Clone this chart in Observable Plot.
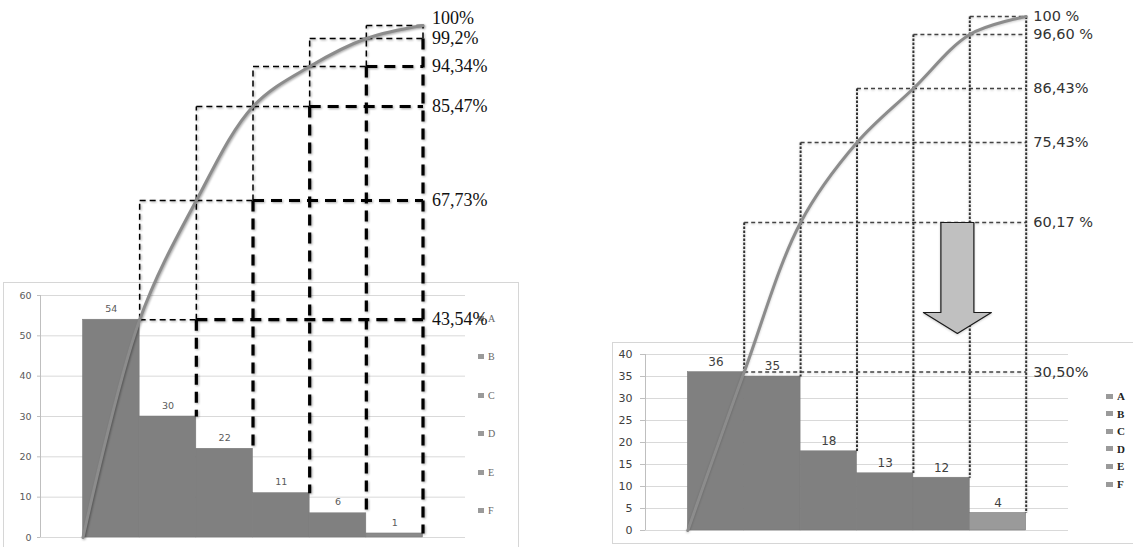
<!DOCTYPE html>
<html><head><meta charset="utf-8">
<script src="https://cdn.jsdelivr.net/npm/d3@7"></script>
<script src="https://cdn.jsdelivr.net/npm/@observablehq/plot@0.6"></script>
<style>
html,body{margin:0;padding:0;background:#fff;}
#root{position:relative;width:1133px;height:547px;overflow:hidden;background:#fff;}
#root svg{position:absolute;left:0;top:0;}
.box{position:absolute;border:1px solid #d6d6d6;box-sizing:border-box;}
.lg{position:absolute;display:flex;align-items:center;white-space:nowrap;}
.lg i{display:inline-block;}
</style></head><body><div id="root"></div><script>
// ---------- data ----------
const categories = ["A", "B", "C", "D", "E", "F"];
const leftValues = [54, 30, 22, 11, 6, 1];
const leftCumulative = [43.54, 67.73, 85.47, 94.34, 99.2, 100];
const leftCumLabels = ["43,54%", "67,73%", "85,47%", "94,34%", "99,2%", "100%"];
const leftTicks = [0, 10, 20, 30, 40, 50, 60];
const rightValues = [36, 35, 18, 13, 12, 4];
const rightCumulative = [30.50, 60.17, 75.43, 86.43, 96.60, 100];
const rightCumLabels = ["30,50%", "60,17 %", "75,43%", "86,43%", "96,60 %", "100 %"];
const rightTicks = [0, 5, 10, 15, 20, 25, 30, 35, 40];
const rightArrow = {x: 4.78, from: 60.17};

// ---------- layout ----------
const W = 1133, H = 547;
const xDomain = [-0.75, 6.75];
const panels = [
  {values: leftValues, cum: leftCumulative, labels: leftCumLabels, ticks: leftTicks, yMax: 60,
   left: 40, right: 465, top: 295, bottom: 537, upperPx: [200, 106, 66, 38, 25],
   style: "bold", tickFont: 9.5, tickColor: "#595959", tickGap: 9, tickLen: 3,
   valFont: 9.5, valColor: "#5a5a5a", valDy: 11, barColors: ["#808080","#808080","#808080","#808080","#808080","#8a8a8a"],
   labFont: "Liberation Serif", labSize: 18, labColor: "#111", labDx: 9, lastDy: -7,
   box: {left: 3, top: 282, width: 516, height: 300},
   legend: {x: 478, y0: 318, gap: 38.5, sq: [6, 5], font: "Liberation Serif", size: 10, color: "#666", weight: "normal"}},
  {values: rightValues, cum: rightCumulative, labels: rightCumLabels, ticks: rightTicks, yMax: 40,
   left: 645, right: 1068, top: 354, bottom: 530, upperPx: [222, 142, 88, 34, 16],
   style: "light", tickFont: 11, tickColor: "#404040", tickGap: 13, tickLen: 5,
   valFont: 12, valColor: "#404040", valDy: 10, barColors: ["#808080","#808080","#808080","#808080","#808080","#9a9a9a"],
   labFont: "DejaVu Sans", labSize: 14.5, labColor: "#333", labDx: 7, lastDy: 0,
   box: {left: 612, top: 342, width: 540, height: 202},
   legend: {x: 1106, y0: 396, gap: 17.6, sq: [7, 5], font: "Liberation Serif", size: 11, color: "#222", weight: "bold"},
   arrow: rightArrow, arrowSize: {length: 111, head: 21, shaftHalf: 16.5, headHalf: 34}}
];

const root = document.getElementById("root");
const n = categories.length;

function barPlot(p) {
  const bars = categories.map((c, i) => ({cat: c, i, value: p.values[i], color: p.barColors[i]}));
  const x0 = () => xDomain[0];
  return Plot.plot({
    width: W, height: H,
    marginLeft: p.left, marginRight: W - p.right, marginTop: p.top, marginBottom: H - p.bottom,
    x: {domain: xDomain, axis: null},
    y: {domain: [0, p.yMax], axis: null},
    color: {type: "identity"},
    style: {background: "transparent"},
    marks: [
      Plot.ruleY(p.ticks, {stroke: "#d9d9d9", strokeWidth: 1}),
      Plot.ruleY(p.ticks, {x1: x0, x2: x0, insetLeft: -p.tickLen, stroke: "#bfbfbf"}),
      Plot.ruleX([xDomain[0]], {stroke: "#bfbfbf"}),
      Plot.text(p.ticks, {x: x0, y: d => d, text: d => String(d), textAnchor: "end", dx: -p.tickGap,
        fill: p.tickColor, fontSize: p.tickFont, fontFamily: "DejaVu Sans"}),
      Plot.rect(bars, {x1: d => d.i, x2: d => d.i + 1, y1: 0, y2: d => d.value, fill: d => d.color,
        stroke: "#777", strokeWidth: 0.5}),
      Plot.text(bars, {x: d => d.i + 0.5, y: d => d.value, text: d => String(d.value), dy: -p.valDy,
        fill: p.valColor, fontSize: p.valFont, fontFamily: "DejaVu Sans"})
    ]
  });
}

function curvePlot(p) {
  const total = d3.sum(p.values);
  const pct = v => v / total * 100;
  const L = [0, ...p.cum];
  const yBar = d3.scaleLinear([0, p.yMax], [p.bottom, p.top]);
  // schematic (non-linear) cumulative axis: piecewise-linear warp of percentages
  const warp = d3.scaleLinear(L, [yBar(0), yBar(p.values[0]), ...p.upperPx]);
  const marks = [];
  if (p.style === "bold") {
    const thin = [], thick = [];
    for (let i = 2; i <= n; i++) {
      thin.push({x1: i - 1, x2: i, y1: L[i], y2: L[i]});
      thin.push({x1: i - 1, x2: i, y1: L[i - 1], y2: L[i - 1]});
      thin.push({x1: i - 1, x2: i - 1, y1: L[i - 1], y2: L[i]});
      thin.push({x1: i, x2: i, y1: L[i - 1], y2: L[i]});
    }
    for (let i = 1; i <= n - 2; i++) thick.push({x1: i + 1, x2: n, y1: L[i], y2: L[i]});
    for (let i = 2; i <= n; i++) thick.push({x1: i, x2: i, y1: L[i - 1], y2: pct(p.values[i - 1])});
    marks.push(Plot.link(thin, {x1: "x1", x2: "x2", y1: "y1", y2: "y2", stroke: "#000", strokeWidth: 1.5, strokeDasharray: "6 4"}));
    marks.push(Plot.link(thick, {x1: "x1", x2: "x2", y1: "y1", y2: "y2", stroke: "#000", strokeWidth: 3.2, strokeDasharray: "11 7"}));
  } else {
    const horiz = [], vert = [];
    for (let i = 1; i <= n; i++) horiz.push({x1: Math.max(i - 1, 1), x2: n, y1: L[i], y2: L[i]});
    for (let i = 1; i <= n; i++) vert.push({x1: i, x2: i, y1: L[Math.min(i + 1, n)], y2: pct(p.values[i - 1])});
    marks.push(Plot.link(horiz, {x1: "x1", x2: "x2", y1: "y1", y2: "y2", stroke: "#444", strokeWidth: 1.5, strokeDasharray: "4 3"}));
    marks.push(Plot.link(vert, {x1: "x1", x2: "x2", y1: "y1", y2: "y2", stroke: "#333", strokeWidth: 2, strokeDasharray: "2.5 1.5"}));
  }
  marks.push(Plot.line(L.map((v, i) => ({x: i, y: v})), {x: "x", y: "y", curve: "catmull-rom", stroke: "#8c8c8c", strokeWidth: 3}));
  if (p.arrow) {
    const a = p.arrow, s = p.arrowSize;
    const pxPerX = (p.right - p.left) / (xDomain[1] - xDomain[0]);
    const top = warp(a.from), tip = top + s.length, neck = tip - s.head;
    const dx = v => v / pxPerX;
    const pts = [
      [a.x - dx(s.shaftHalf), top], [a.x + dx(s.shaftHalf), top], [a.x + dx(s.shaftHalf), neck],
      [a.x + dx(s.headHalf), neck], [a.x, tip], [a.x - dx(s.headHalf), neck], [a.x - dx(s.shaftHalf), neck]
    ].map(([x, py]) => ({x, y: warp.invert(py)}));
    marks.push(Plot.line(pts, {x: "x", y: "y", curve: "linear-closed", fill: "#c0c0c0", stroke: "#1a1a1a", strokeWidth: 1.2}));
  }
  const labs = p.cum.map((v, i) => ({y: v, label: p.labels[i]}));
  const common = {x: () => n, y: "y", text: "label", textAnchor: "start", dx: p.labDx, fill: p.labColor, fontSize: p.labSize, fontFamily: p.labFont};
  marks.push(Plot.text(labs.slice(0, -1), common));
  marks.push(Plot.text(labs.slice(-1), {...common, dy: p.lastDy}));
  const svg = Plot.plot({
    width: W, height: H,
    marginLeft: p.left, marginRight: W - p.right, marginTop: 0, marginBottom: 0,
    x: {domain: xDomain, axis: null},
    y: {transform: warp, domain: [0, H], range: [0, H], axis: null},
    style: {background: "transparent"},
    marks
  });
  const shadow = p.style === "bold" ? "drop-shadow(1px 1.5px 1px rgba(0,0,0,0.35))" : "drop-shadow(0.5px 1px 1px rgba(0,0,0,0.2))";
  svg.querySelectorAll('g[aria-label="link"], g[aria-label="line"]').forEach(g => g.style.filter = shadow);
  return svg;
}

function addLegend(p) {
  const lg = p.legend;
  categories.forEach((c, k) => {
    const row = document.createElement("div");
    row.className = "lg";
    row.style.left = lg.x + "px";
    row.style.top = (lg.y0 + k * lg.gap - 7) + "px";
    row.style.height = "14px";
    row.style.fontFamily = lg.font;
    row.style.fontSize = lg.size + "px";
    row.style.fontWeight = lg.weight;
    row.style.color = lg.color;
    const sq = document.createElement("i");
    sq.style.width = lg.sq[0] + "px";
    sq.style.height = lg.sq[1] + "px";
    sq.style.background = "#9a9a9a";
    sq.style.marginRight = "4px";
    row.appendChild(sq);
    row.appendChild(document.createTextNode(c));
    root.appendChild(row);
  });
}

panels.forEach(p => {
  const box = document.createElement("div");
  box.className = "box";
  Object.assign(box.style, {left: p.box.left + "px", top: p.box.top + "px", width: p.box.width + "px", height: p.box.height + "px"});
  root.appendChild(box);
});
panels.forEach(p => addLegend(p));
panels.forEach(p => {
  root.appendChild(barPlot(p));
  root.appendChild(curvePlot(p));
});
</script></body></html>
